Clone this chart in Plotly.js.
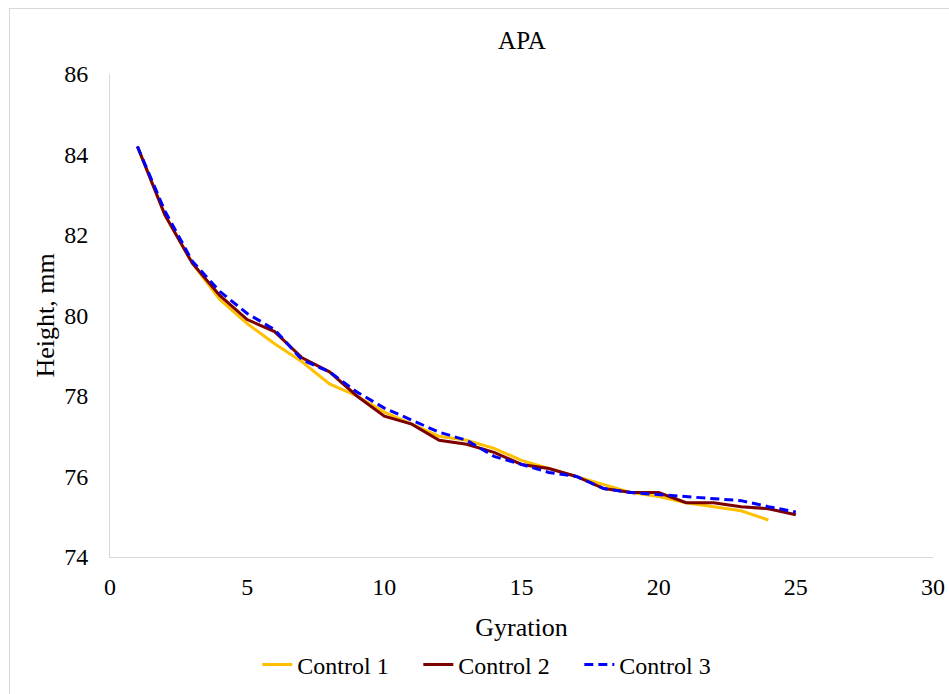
<!DOCTYPE html>
<html>
<head>
<meta charset="utf-8">
<script src="https://cdn.plot.ly/plotly-3.0.1.min.js"></script>
<style>
  html, body { margin: 0; padding: 0; background: #fff; }
  #wrap { position: relative; width: 949px; height: 694px; }
  #chart { width: 949px; height: 694px; }
  #frame { position: absolute; left: 9px; top: 8px; width: 960px; height: 720px;
           border: 1px solid #d9d9d9; pointer-events: none; box-sizing: border-box; }
</style>
</head>
<body>
<div id="wrap">
  <div id="chart"></div>
  <div id="frame"></div>
</div>
<script>
const gyration1 = [1,2,3,4,5,6,7,8,9,10,11,12,13,14,15,16,17,18,19,20,21,22,23,24];
const gyration23 = [1,2,3,4,5,6,7,8,9,10,11,12,13,14,15,16,17,18,19,20,21,22,23,24,25];
const control1 = [84.2, 82.5, 81.3, 80.4, 79.8, 79.3, 78.85, 78.3, 78.0, 77.6, 77.3, 77.0, 76.9, 76.7, 76.4, 76.2, 76.0, 75.8, 75.6, 75.5, 75.35, 75.25, 75.15, 74.92];
const control2 = [84.2, 82.5, 81.3, 80.5, 79.9, 79.6, 78.95, 78.6, 78.0, 77.5, 77.3, 76.9, 76.8, 76.6, 76.3, 76.2, 76.0, 75.7, 75.6, 75.6, 75.35, 75.35, 75.25, 75.2, 75.05];
const control3 = [84.2, 82.6, 81.35, 80.6, 80.05, 79.65, 78.9, 78.6, 78.1, 77.7, 77.4, 77.1, 76.9, 76.5, 76.3, 76.1, 76.0, 75.7, 75.6, 75.55, 75.5, 75.45, 75.4, 75.25, 75.12];
const seriesNames = ["Control 1", "Control 2", "Control 3"];
const xTicks = [0, 5, 10, 15, 20, 25, 30];
const yTicks = [74, 76, 78, 80, 82, 84, 86];

const font = '"Times New Roman", "Liberation Serif", serif';

const traces = [
  { x: gyration1, y: control1, name: seriesNames[0], mode: "lines",
    line: { color: "#FFC000", width: 3 } },
  { x: gyration23, y: control2, name: seriesNames[1], mode: "lines",
    line: { color: "#7B0000", width: 3 } },
  { x: gyration23, y: control3, name: seriesNames[2], mode: "lines",
    line: { color: "#0000FF", width: 3, dash: "9px,5px" } }
];

const layout = {
  width: 949, height: 694,
  margin: { l: 110, r: 16, t: 74, b: 137 },
  paper_bgcolor: "#ffffff", plot_bgcolor: "#ffffff",
  font: { family: font, size: 24, color: "#000" },
  title: { text: "APA", font: { family: font, size: 25, color: "#000" },
           x: 0.55, xanchor: "center", y: 0.942, yanchor: "middle" },
  xaxis: {
    range: [0, 30], tickvals: xTicks, ticktext: xTicks.map(String), automargin: false,
    showgrid: false, zeroline: false, showline: true, linecolor: "#d9d9d9", linewidth: 1,
    ticks: "", ticklabelstandoff: 8,
    tickfont: { family: font, size: 24, color: "#000" },
    title: { text: "Gyration", font: { family: font, size: 26, color: "#000" }, standoff: 20 }
  },
  yaxis: {
    range: [74, 86], tickvals: yTicks, ticktext: yTicks.map(String), automargin: false,
    showgrid: false, zeroline: false, showline: true, linecolor: "#d9d9d9", linewidth: 1,
    ticks: "", ticklabelstandoff: 16,
    tickfont: { family: font, size: 24, color: "#000" },
    title: { text: "Height, mm", font: { family: font, size: 26, color: "#000" }, standoff: 2 }
  },
  showlegend: true,
  legend: { orientation: "h", x: 0.179, xanchor: "left",
            yref: "container", y: 0.0418, yanchor: "middle",
            font: { family: font, size: 24, color: "#000" }, itemwidth: 30,
            entrywidth: 116, entrywidthmode: "pixels",
            bgcolor: "rgba(0,0,0,0)" }
};

Plotly.newPlot("chart", traces, layout, { displayModeBar: false, staticPlot: true });
</script>
</body>
</html>
